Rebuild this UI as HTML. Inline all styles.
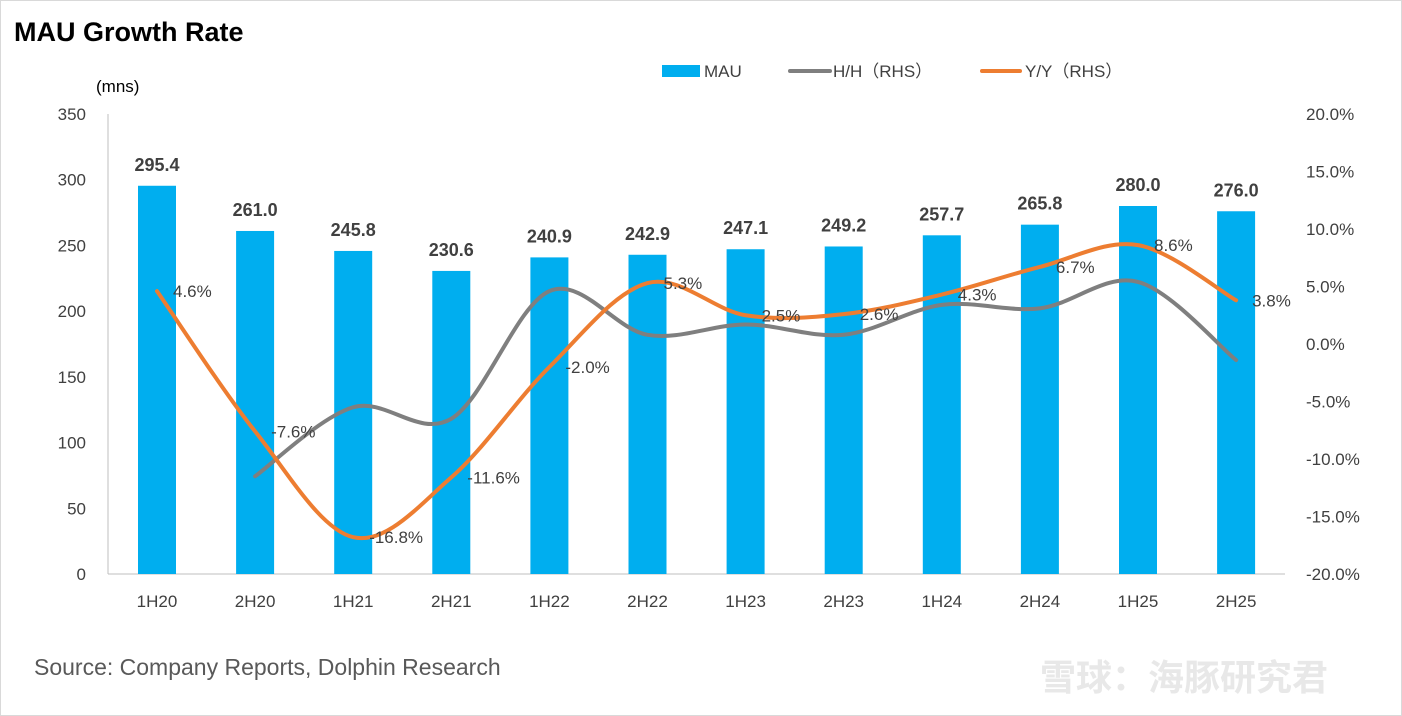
<!DOCTYPE html>
<html><head><meta charset="utf-8"><style>
body{margin:0;background:#fff;font-family:"Liberation Sans","Noto Sans CJK SC",sans-serif;}
#wrap{position:relative;width:1402px;height:716px;overflow:hidden;}
</style></head><body>
<div id="wrap">
<svg id="chart" width="1402" height="716">
<rect x="0.5" y="0.5" width="1401" height="715" fill="#fff" stroke="#d9d9d9"/>
<text x="14" y="41" font-size="27" font-weight="bold" fill="#000">MAU Growth Rate</text>
<text x="96" y="92" font-size="17" fill="#000">(mns)</text>
<g>
<rect x="662" y="65" width="38" height="12" fill="#00aeef"/>
<text x="704" y="77" font-size="17" fill="#404040">MAU</text>
<line x1="790" y1="71" x2="830" y2="71" stroke="#7f7f7f" stroke-width="4" stroke-linecap="round"/>
<text x="833" y="77" font-size="17" fill="#404040">H/H（RHS）</text>
<line x1="982" y1="71" x2="1020" y2="71" stroke="#ed7d31" stroke-width="4" stroke-linecap="round"/>
<text x="1025" y="77" font-size="17" fill="#404040">Y/Y（RHS）</text>
</g>
<g id="axes"></g><g id="bars"></g><g id="lines"></g><g id="labels"></g>
<text x="34" y="675" font-size="23" fill="#595959">Source: Company Reports, Dolphin Research</text>
<text x="1040" y="690" font-size="36" font-weight="bold" fill="#e8e8e8">雪球：海豚研究君</text>
</svg>
</div>
<script>
const categories=["1H20","2H20","1H21","2H21","1H22","2H22","1H23","2H23","1H24","2H24","1H25","2H25"];
const mauValues=[295.4,261.0,245.8,230.6,240.9,242.9,247.1,249.2,257.7,265.8,280.0,276.0];
const hhValues=[null,-11.5,-5.5,-6.5,4.6,0.8,1.7,0.8,3.4,3.1,5.4,-1.4];
const yyValues=[4.6,-7.6,-16.8,-11.6,-2.0,5.3,2.5,2.6,4.3,6.7,8.6,3.8];
const leftTicks=[0,50,100,150,200,250,300,350];
const rightTicks=[-20,-15,-10,-5,0,5,10,15,20];
const NS="http://www.w3.org/2000/svg";
const topY=114,botY=574,x0=157,step=98.1;
const xS=i=>x0+i*step;
const yL=v=>botY-v/350*(botY-topY);
const yR=v=>344-v/20*(botY-344);
function mk(tag,at,parent,txt){const e=document.createElementNS(NS,tag);for(const k in at)e.setAttribute(k,at[k]);if(txt!==undefined)e.textContent=txt;document.getElementById(parent).appendChild(e);return e;}
let e=mk('line',{x1:108,y1:topY,x2:108,y2:botY,stroke:'#bfbfbf'},'axes');


e=mk('line',{x1:108,y1:botY,x2:1285,y2:botY,stroke:'#bfbfbf'},'axes');


leftTicks.forEach(v=>{const t=mk('text',{x:86,y:yL(v)+6,'font-size':17,fill:'#404040','text-anchor':'end'},'axes',v);

});
rightTicks.forEach(v=>{const t=mk('text',{x:1306,y:yR(v)+6,'font-size':17,fill:'#404040'},'axes',v.toFixed(1)+'%');

});
categories.forEach((c,i)=>{const t=mk('text',{x:xS(i),y:607,'font-size':17,fill:'#404040','text-anchor':'middle'},'axes',c);

});
mauValues.forEach((v,i)=>{const r=mk('rect',{x:xS(i)-19,y:yL(v),width:38,height:botY-yL(v),fill:'#00aeef'},'bars');


const t=mk('text',{x:xS(i),y:yL(v)-15,'font-size':18,'font-weight':'bold',fill:'#404040','text-anchor':'middle'},'labels',v.toFixed(1));

});
function smooth(pts){let d='M'+pts[0][0]+','+pts[0][1];for(let i=0;i<pts.length-1;i++){const p0=pts[i-1]||pts[i],p1=pts[i],p2=pts[i+1],p3=pts[i+2]||p2;const t=1/6;
d+=` C${p1[0]+(p2[0]-p0[0])*t},${p1[1]+(p2[1]-p0[1])*t} ${p2[0]-(p3[0]-p1[0])*t},${p2[1]-(p3[1]-p1[1])*t} ${p2[0]},${p2[1]}`;}return d;}
const hhPts=[];hhValues.forEach((v,i)=>{if(v!==null)hhPts.push([xS(i),yR(v)]);});
e=mk('path',{d:smooth(hhPts),fill:'none',stroke:'#7f7f7f','stroke-width':4,'stroke-linecap':'round'},'lines');


const yyPts=yyValues.map((v,i)=>[xS(i),yR(v)]);
e=mk('path',{d:smooth(yyPts),fill:'none',stroke:'#ed7d31','stroke-width':4,'stroke-linecap':'round'},'lines');


yyValues.forEach((v,i)=>{const t=mk('text',{x:xS(i)+16,y:yR(v)+6,'font-size':17,fill:'#404040'},'labels',v.toFixed(1)+'%');

});
</script>
</body></html>
